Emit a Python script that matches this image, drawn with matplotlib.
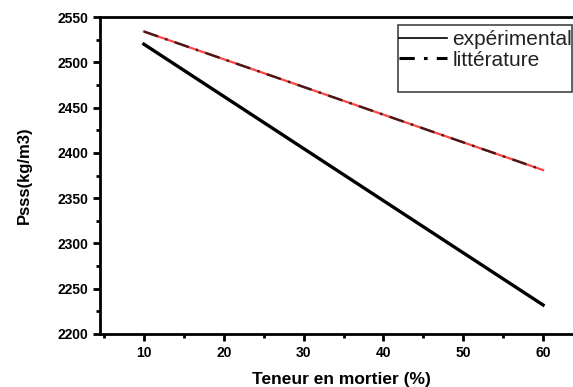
import matplotlib
matplotlib.use("Agg")
import matplotlib.pyplot as plt
from matplotlib.ticker import MultipleLocator
from matplotlib.lines import Line2D
from matplotlib.patches import Rectangle

plt.rcParams['font.family'] = ['Liberation Sans', 'DejaVu Sans']

# teneur en mortier (%)
teneur = [10, 60]
experimental = [2520, 2232]
literature = [2534, 2381]

fig = plt.figure(figsize=(5.73, 3.87), dpi=100)
ax = fig.add_axes([0.1745, 0.137, 0.843, 0.819])

ax.plot(teneur, experimental, color='black', lw=2.4)
ax.plot(teneur, literature, color='#ff3030', lw=1.6, alpha=0.9)
ax.plot(teneur, literature, color='black', lw=1.8, ls=(0, (6, 3, 1, 3)),
        alpha=0.7)

ax.set_xlim(4.5, 65)
ax.set_ylim(2200, 2550)
ax.xaxis.set_major_locator(MultipleLocator(10))
ax.xaxis.set_minor_locator(MultipleLocator(5))
ax.yaxis.set_major_locator(MultipleLocator(50))
ax.yaxis.set_minor_locator(MultipleLocator(25))
ax.set_xticks([10, 20, 30, 40, 50, 60])

for s in ax.spines.values():
    s.set_linewidth(2)
ax.tick_params(which='major', direction='out', length=5, width=2,
               labelsize=10)
ax.tick_params(which='minor', direction='out', length=3, width=2)
for lab in ax.get_xticklabels() + ax.get_yticklabels():
    lab.set_fontweight('bold')

ax.set_xlabel('Teneur en mortier (%)', fontsize=12.5, fontweight='bold',
              labelpad=9)
ax.set_ylabel('Psss(kg/m3)', fontsize=12, fontweight='bold', labelpad=18)

# legend box (has an empty bottom row in the original)
fig.patches.append(Rectangle((398 / 573, 1 - 92 / 387), 174 / 573, 67 / 387,
                             transform=fig.transFigure, fill=False,
                             edgecolor='#444444', lw=1.2))
handles = [Line2D([], [], color='black', lw=1.2),
           Line2D([], [], color='black', lw=2.2, ls=(0, (5, 3, 1.2, 3)))]
fig.legend(handles, ['expérimental', 'littérature'], loc='upper left',
           bbox_to_anchor=(399 / 573, 1 - 30 / 387), frameon=False,
           fontsize=15, handlelength=2.3, handletextpad=0.25,
           borderpad=0, borderaxespad=0, labelspacing=0.08,
           labelcolor='#222222')

fig.savefig('out.png', dpi=100)
